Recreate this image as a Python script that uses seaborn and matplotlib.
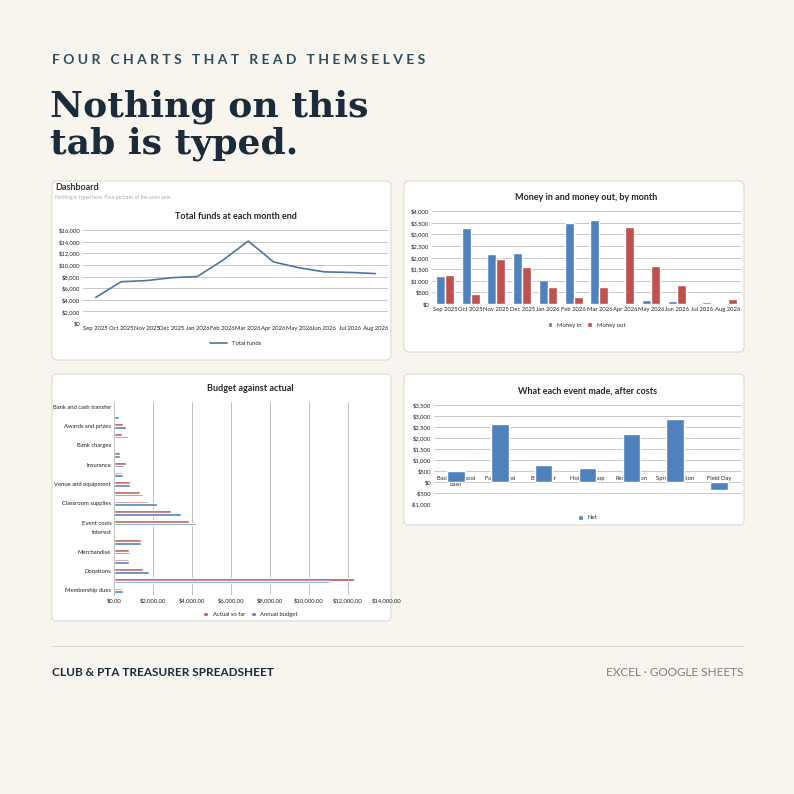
import matplotlib
matplotlib.use("Agg")
import matplotlib.pyplot as plt
import matplotlib.patches as mpatches
import matplotlib.ticker as mticker
import numpy as np
import pandas as pd
import seaborn as sns

# ================= data =================
MONTHS = ['Sep 2025', 'Oct 2025', 'Nov 2025', 'Dec 2025', 'Jan 2026', 'Feb 2026',
          'Mar 2026', 'Apr 2026', 'May 2026', 'Jun 2026', 'Jul 2026', 'Aug 2026']
TOTAL_FUNDS = [4400, 7100, 7300, 7800, 8000, 10800, 14100, 10500, 9500, 8800, 8700, 8500]
MONEY_IN = [1200, 3250, 2150, 2200, 1050, 3480, 3600, 0, 180, 150, 0, 0]
MONEY_OUT = [1250, 420, 1950, 1600, 750, 280, 750, 3330, 1650, 800, 80, 200]

# top to bottom
BUDGET_LABELS = ['Bank and cash transfer', '', 'Awards and prizes', '', 'Bank charges', '',
                 'Insurance', '', 'Venue and equipment', '', 'Classroom supplies', '',
                 'Event costs', 'Interest', '', 'Merchandise', '', 'Donations', '', 'Membership dues']
BUDGET_ACTUAL = [0, 0, 450, 400, 50, 300, 600, 400, 800, 1350, 1750, 2900,
                 3850, 0, 1400, 750, 750, 1500, 12300, 400]
BUDGET_ANNUAL = [0, 250, 600, 700, 50, 300, 500, 450, 800, 1500, 2200, 3450,
                 4200, 0, 1400, 800, 750, 1800, 11000, 450]

EVENTS = ['Back to School\nBash', 'Fall Festival', 'Book Fair', 'Holiday Shop',
          'Read-a-thon', 'Spring Auction', 'Field Day']
EVENT_NET = [500, 2650, 780, 650, 2200, 2850, -350]

BG = '#f8f5ef'
BLUE = '#4f81bd'
RED = '#c0504d'
DARK = '#1c2b3a'
W = H = 794

sns.set_theme(style='white')
plt.rcParams['font.family'] = ['Lato', 'DejaVu Sans']

fig = plt.figure(figsize=(7.94, 7.94), dpi=100, facecolor=BG)


def px_ax(x0, y0, x1, y1):
    ax = fig.add_axes([x0 / W, 1 - y1 / H, (x1 - x0) / W, (y1 - y0) / H])
    ax.set_zorder(2)
    return ax


def card(x0, y0, x1, y1):
    fig.patches.append(mpatches.FancyBboxPatch(
        (x0 / W, 1 - y1 / H), (x1 - x0) / W, (y1 - y0) / H,
        boxstyle='round,pad=0,rounding_size=0.006', transform=fig.transFigure,
        facecolor='white', edgecolor='#dedad2', linewidth=0.8, zorder=-1))


def ftext(x, y, s, **kw):
    fig.text(x / W, 1 - y / H, s, **kw)


def style_ax(ax):
    ax.set_facecolor('white')
    for sp in ax.spines.values():
        sp.set_visible(False)
    ax.tick_params(labelsize=4.2, length=0, pad=2, colors='#222222')
    ax.set_xlabel('')
    ax.set_ylabel('')


money_fmt = mticker.FuncFormatter(lambda v, p: f'-${abs(v):,.0f}' if v < 0 else f'${v:,.0f}')

# header
ftext(52, 60, 'F O U R   C H A R T S   T H A T   R E A D   T H E M S E L V E S',
      fontsize=10, color='#2c4d5c', fontweight='bold', va='center')
ftext(50, 125, 'Nothing on this\ntab is typed.', fontsize=26, fontweight='bold',
      family='DejaVu Serif', color=DARK, va='center', linespacing=1.1)

# ---------- chart 1 ----------
card(52, 181, 391, 360)
ftext(55, 188, 'Dashboard', fontsize=6.5, fontweight='bold', color='#333333', va='center')
ftext(55, 197, 'Nothing is typed here. Four pictures of the same year.', fontsize=3.5,
      color='#aaaaaa', va='center')
ax1 = px_ax(83, 230, 388, 323)
df1 = pd.DataFrame({'month': MONTHS, 'funds': TOTAL_FUNDS})
sns.lineplot(data=df1, x='month', y='funds', ax=ax1, color='#4a76a8', linewidth=1.2,
             label='Total funds', sort=False)
ax1.set_ylim(0, 16000)
ax1.set_yticks(range(0, 16001, 2000))
ax1.yaxis.set_major_formatter(money_fmt)
ax1.set_xlim(-0.5, 11.5)
ax1.grid(axis='y', color='#bfbfbf', linewidth=0.6)
style_ax(ax1)
ax1.set_title('Total funds at each month end', fontsize=6.5, fontweight='bold', pad=8)
ax1.legend(loc='upper center', bbox_to_anchor=(0.5, -0.14), frameon=False, fontsize=4.2,
           handlelength=3)

# ---------- chart 2 ----------
card(404, 181, 744, 352)
ax2 = px_ax(432, 211, 741, 304)
df2 = pd.DataFrame({'month': MONTHS * 2, 'value': MONEY_IN + MONEY_OUT,
                    'series': ['Money in'] * 12 + ['Money out'] * 12})
sns.barplot(data=df2, x='month', y='value', hue='series', palette=[BLUE, RED], ax=ax2,
            width=0.7, saturation=1)
ax2.set_ylim(0, 4000)
ax2.set_yticks(range(0, 4001, 500))
ax2.yaxis.set_major_formatter(money_fmt)
ax2.grid(axis='y', color='#bfbfbf', linewidth=0.6)
ax2.set_axisbelow(True)
style_ax(ax2)
ax2.set_title('Money in and money out, by month', fontsize=6.5, fontweight='bold', pad=8)
ax2.legend(loc='upper center', bbox_to_anchor=(0.5, -0.14), frameon=False, fontsize=4.2,
           ncol=2, handlelength=0.8, handleheight=0.8, columnspacing=1)

# ---------- chart 3 ----------
card(52, 374, 391, 621)
ax3 = px_ax(114, 402, 387, 595)
ids = [f'c{i}' for i in range(len(BUDGET_LABELS))]
df3 = pd.DataFrame({'cat': ids * 2, 'value': BUDGET_ACTUAL + BUDGET_ANNUAL,
                    'series': ['Actual so far'] * len(ids) + ['Annual budget'] * len(ids)})
sns.barplot(data=df3, y='cat', x='value', hue='series', palette=[RED, BLUE], ax=ax3,
            order=ids, orient='h', width=0.55, saturation=1)
ax3.set_xlim(0, 14000)
ax3.set_xticks(range(0, 14001, 2000))
ax3.xaxis.set_major_formatter(mticker.FuncFormatter(lambda v, p: f'${v:,.2f}'))
ax3.set_yticks(range(len(ids)))
ax3.set_yticklabels(BUDGET_LABELS)
ax3.grid(axis='x', color='#bfbfbf', linewidth=0.7)
ax3.set_axisbelow(True)
style_ax(ax3)
ax3.spines['left'].set_visible(True)
ax3.spines['left'].set_color('#bfbfbf')
ax3.spines['left'].set_linewidth(0.6)
ax3.set_title('Budget against actual', fontsize=6.5, fontweight='bold', pad=8)
ax3.legend(loc='upper center', bbox_to_anchor=(0.5, -0.06), frameon=False, fontsize=4.2,
           ncol=2, handlelength=0.8, handleheight=0.8, columnspacing=1)

# ---------- chart 4 ----------
card(404, 374, 744, 525)
ax4 = px_ax(434, 405, 741, 504)
df4 = pd.DataFrame({'event': EVENTS, 'net': EVENT_NET})
sns.barplot(data=df4, x='event', y='net', color=BLUE, ax=ax4, width=0.4, saturation=1,
            label='Net')
ax4.set_ylim(-1000, 3500)
ax4.set_yticks(range(-1000, 3501, 500))
ax4.yaxis.set_major_formatter(money_fmt)
ax4.grid(axis='y', color='#bfbfbf', linewidth=0.6)
ax4.set_axisbelow(True)
style_ax(ax4)
ax4.tick_params(axis='x', pad=-20)
for lbl in ax4.get_xticklabels():
    lbl.set_verticalalignment('top')
ax4.set_title('What each event made, after costs', fontsize=6.5, fontweight='bold', pad=8)
ax4.legend(loc='upper center', bbox_to_anchor=(0.5, -0.06), frameon=False, fontsize=4.2,
           handlelength=0.8, handleheight=0.8)

# footer
fig.add_artist(plt.Line2D([52 / W, 744 / W], [1 - 646 / H, 1 - 646 / H],
                          transform=fig.transFigure, color='#dcd8d0', linewidth=0.8))
ftext(52, 672, 'CLUB & PTA TREASURER SPREADSHEET', fontsize=8.5, fontweight='bold',
      color=DARK, va='center')
ftext(743, 672, 'EXCEL · GOOGLE SHEETS', fontsize=8.5, color='#7b7f84', va='center', ha='right')

fig.savefig('out.png', dpi=100, facecolor=BG)
